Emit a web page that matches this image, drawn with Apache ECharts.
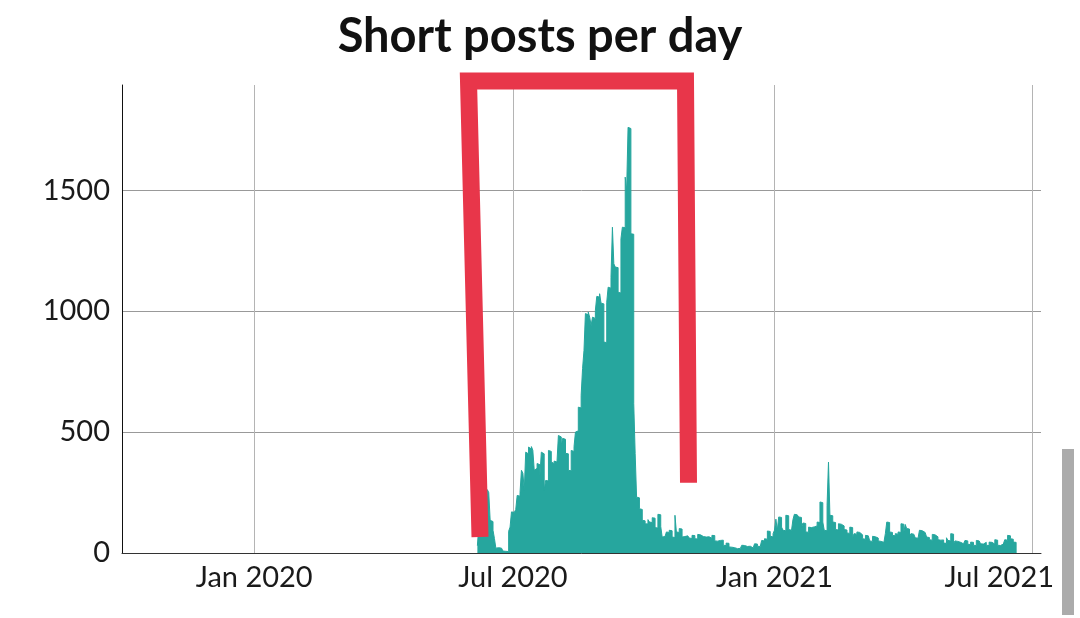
<!DOCTYPE html>
<html>
<head>
<meta charset="utf-8">
<script src="https://cdn.jsdelivr.net/npm/echarts@6/dist/echarts.min.js"></script>
<style>
  html, body { margin: 0; padding: 0; background: #fff; }
  #main { width: 1080px; height: 618px; }
  .scroll { position: absolute; left: 1062px; top: 449px; width: 12px; height: 166px; background: #ababab; }
</style>
</head>
<body>
<div id="main"></div>
<div class="scroll"></div>
<script>
// first day with posts, one value per day after that
var startDay = [2020, 5, 6];
var posts = [
  30, 110, 180, 150, 200, 170, 135, 262, 250, 135,
  130, 94, 60, 20, 22, 18, 20, 12, 8, 7,
  5, 6, 90, 107, 170, 168, 165, 180, 238, 235,
  250, 342, 330, 260, 417, 410, 438, 430, 440, 425,
  342, 350, 370, 365, 320, 417, 410, 260, 300, 298,
  424, 420, 376, 370, 380, 376, 370, 486, 480, 445,
  474, 470, 412, 410, 342, 340, 424, 420, 440, 500,
  505, 603, 600, 652, 763, 838, 990, 985, 996, 975,
  941, 975, 970, 1003, 1061, 1058, 1072, 1033, 1030, 872,
  870, 1037, 1099, 1095, 1140, 1347, 1196, 1182, 1180, 1078,
  1075, 1299, 1347, 1345, 1554, 1499, 1760, 1755, 1320, 1318,
  618, 411, 231, 228, 183, 180, 135, 133, 121, 120,
  138, 128, 126, 146, 144, 105, 103, 160, 158, 110,
  66, 68, 64, 87, 85, 94, 92, 66, 64, 156,
  87, 85, 101, 99, 66, 68, 73, 71, 74, 62,
  60, 73, 72, 59, 58, 77, 75, 69, 68, 70,
  66, 64, 67, 63, 61, 73, 72, 50, 49, 51,
  52, 50, 53, 32, 31, 41, 40, 25, 24, 26,
  22, 21, 18, 17, 19, 18, 32, 31, 28, 27,
  29, 28, 22, 21, 23, 38, 37, 28, 27, 29,
  52, 50, 59, 57, 91, 89, 70, 66, 80, 94,
  140, 94, 149, 147, 107, 94, 92, 156, 154, 97,
  94, 92, 138, 160, 158, 161, 149, 147, 101, 124,
  122, 87, 86, 107, 105, 110, 108, 114, 112, 128,
  126, 211, 208, 128, 94, 92, 197, 376, 156, 154,
  128, 126, 97, 95, 121, 119, 114, 112, 97, 95,
  83, 81, 107, 105, 64, 80, 78, 87, 85, 77,
  75, 59, 57, 73, 71, 74, 50, 48, 69, 67,
  64, 62, 50, 48, 45, 44, 46, 80, 128, 126,
  87, 85, 73, 71, 80, 78, 87, 85, 121, 119,
  87, 118, 101, 99, 66, 80, 78, 81, 63, 61,
  59, 94, 92, 87, 85, 88, 66, 64, 55, 53,
  77, 75, 69, 67, 55, 53, 56, 54, 41, 40,
  63, 52, 50, 80, 78, 38, 50, 48, 45, 44,
  46, 38, 37, 52, 50, 36, 35, 45, 44, 32,
  31, 52, 50, 53, 38, 37, 45, 44, 32, 31,
  45, 44, 38, 37, 55, 53, 32, 31, 38, 37,
  39, 55, 53, 73, 71, 59, 57, 45, 44
];
var yTicks = [0, 500, 1000, 1500];
var xTicks = [[2020, 0, 1], [2020, 6, 1], [2021, 0, 1], [2021, 6, 1]];
var monthNames = ['Jan', 'Feb', 'Mar', 'Apr', 'May', 'Jun', 'Jul', 'Aug', 'Sep', 'Oct', 'Nov', 'Dec'];

var seriesData = [];
for (var i = 0; i < posts.length; i++) {
  seriesData.push([new Date(startDay[0], startDay[1], startDay[2] + i).getTime(), posts[i]]);
}
// close the last day back down to zero
seriesData.push([new Date(startDay[0], startDay[1], startDay[2] + posts.length).getTime(), 0]);

var xTickValues = xTicks.map(function (d) { return new Date(d[0], d[1], d[2]).getTime(); });
var lastTick = xTickValues[xTickValues.length - 1];

var myChart = echarts.init(document.getElementById('main'));
var option = {
  animation: false,
  textStyle: { fontFamily: 'Lato' },
  title: {
    text: 'Short posts per day',
    left: 'center',
    top: 8,
    textStyle: { fontFamily: 'Lato', fontSize: 47, fontWeight: 'bold', color: '#111' }
  },
  grid: { left: 122, right: 39, top: 85, bottom: 65 },
  xAxis: {
    // timestamps on a value axis so the four ticks can be fixed
    type: 'value',
    min: new Date(2019, 8, 30).getTime(),
    max: new Date(2021, 6, 7, 12).getTime(),
    axisLine: { show: true, lineStyle: { color: '#333', width: 1 } },
    axisTick: { show: false, customValues: xTickValues },
    axisLabel: {
      customValues: xTickValues,
      fontSize: 29,
      color: '#1a1a1a',
      margin: 10,
      formatter: function (v) {
        var d = new Date(v);
        var s = monthNames[d.getMonth()] + ' ' + d.getFullYear();
        // last label is pushed left so it stays inside
        return v === lastTick ? '{last|' + s + '}' : s;
      },
      rich: {
        last: { fontSize: 29, color: '#1a1a1a', fontFamily: 'Lato', padding: [0, 65, 0, 0] }
      }
    },
    splitLine: { show: true, lineStyle: { color: '#b4b4b4', width: 1 } }
  },
  yAxis: {
    type: 'value',
    min: 0,
    max: 1935,
    axisLine: { show: true, lineStyle: { color: '#111', width: 1 } },
    axisTick: { show: false, customValues: yTicks },
    axisLabel: {
      customValues: yTicks, fontSize: 29, color: '#1a1a1a', margin: 12,
      formatter: function (v) { return String(v); }
    },
    splitLine: { show: true, lineStyle: { color: '#999', width: 1 } }
  },
  series: [{
    name: 'posts',
    type: 'line',
    step: 'end',
    showSymbol: false,
    symbol: 'none',
    data: seriesData,
    lineStyle: { color: '#26a69e', width: 1 },
    itemStyle: { color: '#26a69e' },
    areaStyle: { color: '#26a69e', opacity: 1 }
  }],
  graphic: [{
    type: 'polyline',
    z: 100,
    shape: { points: [[480, 537], [468.5, 81], [685.5, 81], [688.5, 482.7]] },
    style: { stroke: '#e8364a', lineWidth: 17, fill: null, lineJoin: 'miter', lineCap: 'butt' }
  }]
};
myChart.setOption(option);
</script>
</body>
</html>
